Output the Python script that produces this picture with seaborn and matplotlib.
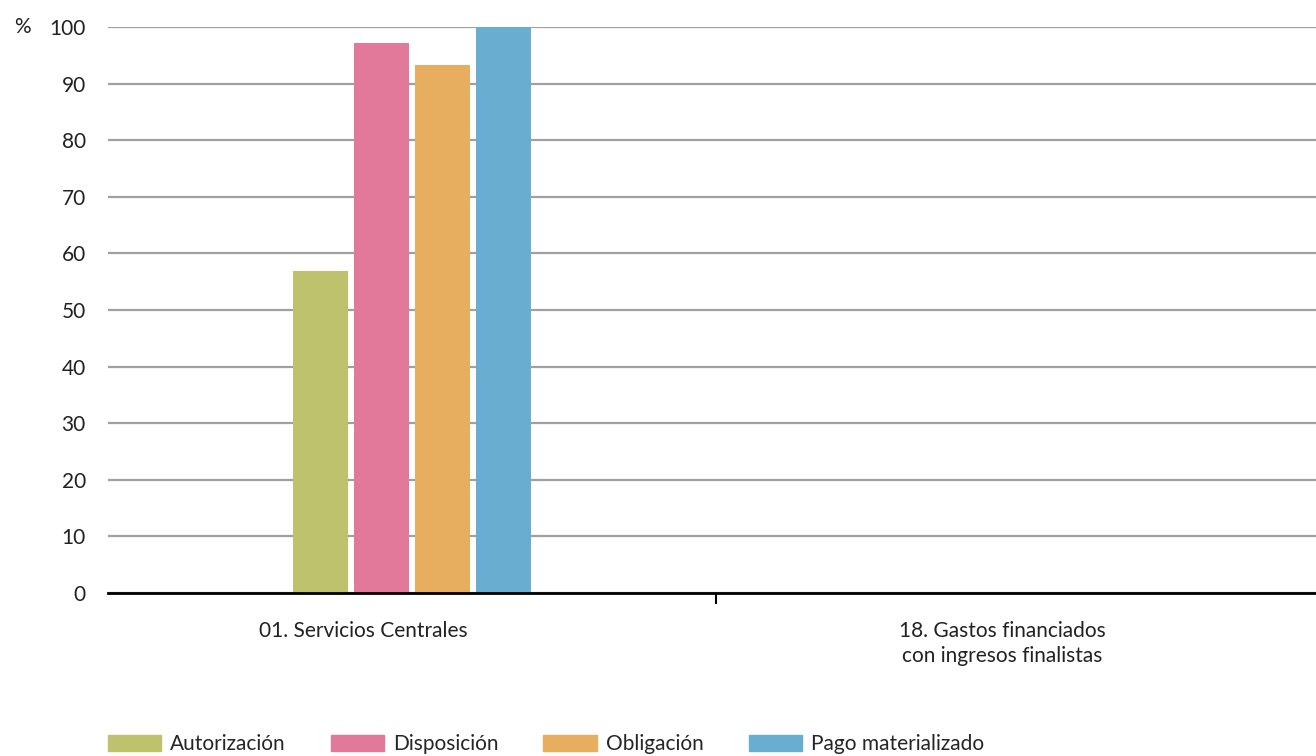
import numpy as np
import pandas as pd
import seaborn as sns
import matplotlib.pyplot as plt
import matplotlib.transforms as mtransforms

categories = ["01. Servicios Centrales", "18. Gastos financiados\ncon ingresos finalistas"]
series = ["Autorización", "Disposición", "Obligación", "Pago materializado"]
autorizacion = [56.9, 0]
disposicion = [97.2, 0]
obligacion = [93.3, 0]
pago = [100.0, 0]
colors = ["#BFC26C", "#E2799A", "#E8AE60", "#69AED1"]

rows = []
for name, vals in zip(series, [autorizacion, disposicion, obligacion, pago]):
    for c, v in zip(categories, vals):
        rows.append({"cat": c, "serie": name, "val": v})
df = pd.DataFrame(rows)

sns.set_style("white")
plt.rcParams['font.family'] = ['Lato', 'DejaVu Sans']

fig = plt.figure(figsize=(13.16, 7.56), dpi=100)
# axes run a little past the right edge of the image, like the original
ax = fig.add_axes([108/1316, 1-593/756, 1216/1316, (593-27)/756])

sns.barplot(data=df, x="cat", y="val", hue="serie", palette=colors,
            width=0.4, gap=0.1, ax=ax, legend=False, saturation=1, linewidth=0)

ax.set_ylim(0, 100)
ax.set_xlim(-0.5, 1.5)
ax.set_yticks(np.arange(0, 101, 10))
ax.yaxis.grid(True, color="#a0a0a0", linewidth=1.6)
ax.set_axisbelow(True)
for s in ["top", "right", "left"]:
    ax.spines[s].set_visible(False)
ax.spines["bottom"].set_color("black")
ax.spines["bottom"].set_linewidth(2)
ax.set_xlabel("")
ax.set_ylabel("")
ax.tick_params(axis="y", length=0, pad=16, labelsize=15, labelcolor="#222222")
ax.tick_params(axis="x", which="major", length=0, pad=20, labelsize=15, labelcolor="#222222")
ax.set_xticks([0.5], minor=True)
ax.tick_params(axis="x", which="minor", bottom=True, length=8, width=1.5, color="black", direction="out")
for lab, dx in zip(ax.get_xticklabels(), [-49, -18]):
    lab.set_linespacing(1.35)
    lab.set_transform(lab.get_transform() + mtransforms.ScaledTranslation(dx/100, 0, fig.dpi_scale_trans))

fig.text(22/1316, 1-27/756, "%", ha="center", va="center", fontsize=15, color="#222222")

handles = [plt.Rectangle((0, 0), 1, 1, color=c) for c in colors]
fig.legend(handles, series, loc="lower left", bbox_to_anchor=(89/1316, -0.022), ncol=4,
           frameon=False, fontsize=15, handlelength=2.55, handleheight=0.8,
           handletextpad=0.45, columnspacing=2.15)

fig.savefig("out.png", dpi=100)
